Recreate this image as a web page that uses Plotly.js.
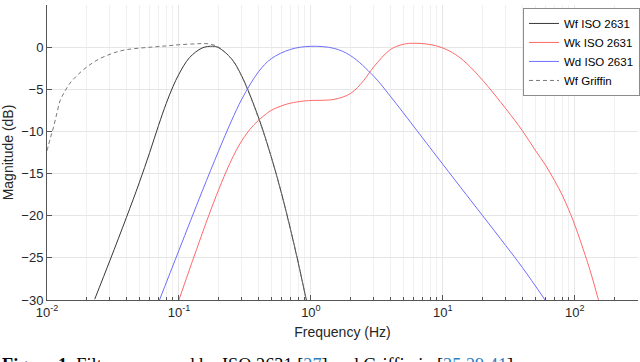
<!DOCTYPE html>
<html>
<head>
<meta charset="utf-8">
<script src="https://cdn.plot.ly/plotly-3.0.1.min.js"></script>
<style>
  html, body { margin: 0; padding: 0; background: #fff; }
  #graph { width: 640px; height: 362px; }
</style>
</head>
<body>
<div id="graph"></div>
<script>
// values (frequency in Hz, magnitude in dB)
var freqWf = [0.023, 0.03, 0.04, 0.05, 0.06, 0.07, 0.08, 0.09, 0.1, 0.12, 0.15, 0.18, 0.2, 0.25, 0.3, 0.4, 0.5, 0.6, 0.7, 0.8, 0.9, 0.93];
var magWf = [-29.9, -25.3, -20.2, -16.1, -12.5, -9.3, -6.7, -4.7, -3.2, -1.26, -0.1, 0.11, -0.07, -1.37, -3.47, -8.3, -13.0, -17.4, -21.6, -25.5, -29.2, -30.2];

var freqWk = [0.1, 0.117, 0.136, 0.16, 0.192, 0.229, 0.257, 0.289, 0.343, 0.4, 0.46, 0.5, 0.615, 0.7, 0.87, 1, 1.5, 2, 2.5, 3, 4, 5, 6, 8, 10, 12.5, 15, 20, 30, 40, 50, 60, 70, 80, 90, 100, 120, 130, 140, 150, 160];
var magWk = [-30, -26.9, -24.0, -20.9, -17.6, -14.7, -13.0, -11.5, -9.8, -8.7, -7.9, -7.5, -6.9, -6.65, -6.4, -6.33, -6.19, -5.49, -4.0, -2.33, -0.29, 0.33, 0.46, 0.31, -0.1, -0.89, -1.87, -3.92, -7.3, -9.9, -12.2, -14.0, -15.8, -17.5, -19.3, -21.1, -24.7, -26.4, -28.1, -29.8, -31.0];

var freqWd = [0.07, 0.1, 0.15, 0.2, 0.25, 0.3, 0.4, 0.5, 0.7, 1, 1.5, 2, 3, 4, 6, 8, 10, 15, 20, 30, 40, 60];
var magWd = [-30.3, -24.1, -17.1, -12.3, -8.75, -6.15, -2.94, -1.38, -0.27, 0.1, -0.15, -1.01, -3.47, -5.82, -9.38, -11.93, -13.9, -17.47, -19.98, -23.55, -26.13, -30.07];

var freqGriffin = [0.01, 0.0106, 0.0112, 0.0119, 0.0126, 0.0137, 0.0149, 0.0168, 0.0188, 0.022, 0.0252, 0.03, 0.034, 0.04, 0.05, 0.065, 0.08, 0.1, 0.128, 0.15, 0.17, 0.2, 0.25, 0.3, 0.4, 0.5, 0.6, 0.7, 0.8, 0.9, 0.93];
var magGriffin = [-12.3, -10.8, -9.5, -7.8, -6.3, -5.2, -4.3, -3.4, -2.7, -1.9, -1.35, -0.85, -0.55, -0.3, -0.12, 0.03, 0.15, 0.28, 0.38, 0.42, 0.38, 0.0, -1.4, -3.5, -8.4, -13.0, -17.4, -21.6, -25.5, -29.2, -30.2];

var seriesNames = ["Wf ISO 2631", "Wk ISO 2631", "Wd ISO 2631", "Wf Griffin"];
var xTickVals = [0.01, 0.1, 1, 10, 100];
var xTickText = ["10<sup>-2</sup>", "10<sup>-1</sup>", "10<sup>0</sup>", "10<sup>1</sup>", "10<sup>2</sup>"];
var yTickVals = [-30, -25, -20, -15, -10, -5, 0, 5];

/*
* minor grid positions: 2..9 inside every decade
*/
function minorLogTicks() {
    var vals = [], d, k;
    for (d = 0; d < xTickVals.length; d++) {
        for (k = 2; k <= 9; k++) {
            vals.push(k * xTickVals[d]);
        }
    }
    return vals;
}

function drawGraph() {
    var traceWf, traceWk, traceWd, traceGriffin, data, layout;

    traceWf = {
        x: freqWf, y: magWf, type: 'scatter', mode: 'lines', name: seriesNames[0],
        line: { color: 'rgb(55,55,55)', width: 1, shape: 'spline', smoothing: 1 }
    };
    traceWk = {
        x: freqWk, y: magWk, type: 'scatter', mode: 'lines', name: seriesNames[1],
        line: { color: 'rgb(255,105,105)', width: 1, shape: 'spline', smoothing: 1 }
    };
    traceWd = {
        x: freqWd, y: magWd, type: 'scatter', mode: 'lines', name: seriesNames[2],
        line: { color: 'rgb(110,110,255)', width: 1, shape: 'spline', smoothing: 1 }
    };
    traceGriffin = {
        x: freqGriffin, y: magGriffin, type: 'scatter', mode: 'lines', name: seriesNames[3],
        line: { color: 'rgb(120,120,120)', width: 1, dash: '4px,3px', shape: 'spline', smoothing: 1 }
    };

    data = [traceWf, traceWk, traceWd, traceGriffin];

    layout = {
        width: 640,
        height: 362,
        margin: { l: 47, r: 1, t: 5, b: 62 },
        paper_bgcolor: '#ffffff',
        plot_bgcolor: '#ffffff',
        font: { family: 'Liberation Sans, Arial, sans-serif', size: 13, color: '#262626' },
        showlegend: true,
        legend: {
            x: 1.002, xanchor: 'right', y: 0.99, yanchor: 'top',
            bgcolor: '#ffffff', bordercolor: '#8c8c8c', borderwidth: 1,
            font: { size: 11.5, color: '#000' },
            itemwidth: 30, tracegroupgap: 0
        },
        xaxis: {
            type: 'log',
            range: [-2, 2.479],
            title: { text: 'Frequency (Hz)', font: { size: 14 }, standoff: 8 },
            tickmode: 'array',
            tickvals: xTickVals,
            ticktext: xTickText,
            ticks: 'inside', ticklen: 5, tickcolor: '#555',
            showline: true, linecolor: '#555', linewidth: 1,
            showgrid: true, gridcolor: '#e6e6e6', gridwidth: 1,
            zeroline: false,
            minor: {
                tickmode: 'array', tickvals: minorLogTicks(),
                showgrid: true, gridcolor: '#f0f0f0', gridwidth: 1,
                ticks: 'inside', ticklen: 3, tickcolor: '#555'
            },
            automargin: false
        },
        yaxis: {
            range: [-30, 5],
            title: { text: 'Magnitude (dB)', font: { size: 14 }, standoff: 7 },
            tickvals: yTickVals,
            ticks: 'inside', ticklen: 5, tickcolor: '#555',
            showline: true, linecolor: '#555', linewidth: 1,
            showgrid: true, gridcolor: '#e6e6e6', gridwidth: 1,
            zeroline: false,
            automargin: false
        },
        annotations: [{
            xref: 'paper', yref: 'paper',
            x: -0.0794, y: -0.178, xanchor: 'left', yanchor: 'top',
            showarrow: false,
            align: 'left',
            font: { family: 'Liberation Serif, serif', size: 18.3, color: '#000' },
            text: "<b>Figure 1.</b> Filters proposed by ISO 2631 [<span style='color:#2f7fc1'>27</span>] and Griffin in [<span style='color:#2f7fc1'>25,29,41</span>]."
        }]
    };

    Plotly.newPlot("graph", data, layout, { staticPlot: true });
}

drawGraph();
</script>
</body>
</html>
